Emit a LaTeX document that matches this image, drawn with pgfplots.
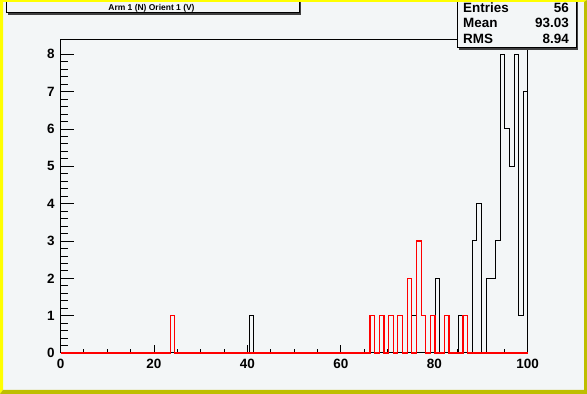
\documentclass[border=0pt]{standalone}
\usepackage{pgfplots}
\pgfplotsset{compat=1.18}
\usepackage{fontspec}
\setmainfont{Liberation Sans}
\definecolor{canvasbg}{RGB}{243,246,247}
\definecolor{brdlight}{RGB}{255,255,0}
\definecolor{brddark}{RGB}{190,190,0}
\begin{document}
\begin{tikzpicture}
\useasboundingbox (0,0) rectangle (587bp,394bp);
\fill[canvasbg] (0,0) rectangle (587bp,394bp);
% frame + x ticks
\begin{axis}[
  at={(60.5bp,41bp)}, anchor=south west,
  scale only axis, width=467.2bp, height=313.7bp,
  xmin=0, xmax=100, ymin=0, ymax=8.4,
  clip=false,
  tick pos=left, tick align=inside,
  xtick={0,20,...,100}, minor x tick num=3,
  ytick=\empty,
  major tick length=8bp, minor tick length=4bp,
  tick style={black, line width=0.8bp},
  /pgf/number format/assume math mode=true,
  xticklabel style={font=\fontsize{13.5}{13.5}\selectfont\bfseries, yshift=-3bp},
  axis line style={line width=1bp},
]
\end{axis}
% y ticks + histograms
\begin{axis}[
  at={(60.5bp,41bp)}, anchor=south west,
  scale only axis, width=467.2bp, height=313.7bp,
  xmin=0, xmax=100, ymin=0, ymax=8.4,
  clip=false,
  tick pos=left, tick align=inside,
  xtick=\empty,
  ytick={0,1,...,8}, minor y tick num=4,
  major tick length=13bp, minor tick length=7bp,
  tick style={black, line width=0.8bp},
  /pgf/number format/assume math mode=true,
  yticklabel style={font=\fontsize{13.5}{13.5}\selectfont\bfseries, xshift=-2.5bp},
  axis line style={draw=none},
]
% bin left edges and contents
\addplot[const plot, black, line width=1bp] coordinates {
 (0,0) (40.37,1) (41.37,0) (75.2,1) (76.19,0) (80.17,2) (81.17,0)
 (85.15,1) (86.14,0) (88.13,3) (89.13,4) (90.12,0) (91.12,2) (92.11,2)
 (93.11,3) (94.1,8) (95.1,6) (96.09,5) (97.09,8) (98.08,1) (99.08,7)
 (100,0)};
\addplot[const plot, red, line width=1.2bp] coordinates {
 (0,0) (23.46,1) (24.45,0) (66.24,1) (67.24,0) (68.23,1) (69.23,0)
 (70.22,1) (71.22,0) (72.21,1) (73.21,0) (74.2,2) (75.2,0) (76.19,3)
 (77.19,1) (78.18,0) (79.18,1) (80.17,0) (82.16,1) (83.16,0)
 (86.14,1) (87.14,0) (100,0)};
\end{axis}
% title box
\fill[black!75] (8bp,379bp) rectangle (301bp,396bp);
\filldraw[fill=canvasbg, draw=black, line width=1bp] (6bp,381bp) rectangle (299bp,398bp);
\node[anchor=base, inner sep=0pt, font=\fontsize{8.5}{8.5}\selectfont\bfseries] at (151.5bp,383.5bp) {Arm 1 (N) Orient 1 (V)};
% stats box
\fill[black!75] (459.3bp,344.3bp) rectangle (578bp,396bp);
\filldraw[fill=canvasbg, draw=black, line width=1bp] (457.3bp,346.3bp) rectangle (576bp,398bp);
\begin{scope}[every node/.style={inner sep=0pt, font=\fontsize{13.5}{13.5}\selectfont\bfseries}]
\node[anchor=base west] at (463bp,381.7bp) {Entries};
\node[anchor=base east] at (569bp,381.7bp) {56};
\node[anchor=base west] at (463bp,366.2bp) {Mean};
\node[anchor=base east] at (569bp,366.2bp) {93.03};
\node[anchor=base west] at (463bp,350bp) {RMS};
\node[anchor=base east] at (569bp,350bp) {8.94};
\end{scope}
% canvas border
\fill[brdlight] (0,0) -- (0,394bp) -- (587bp,394bp) -- (584bp,392bp) -- (3bp,392bp) -- (3bp,4bp) -- cycle;
\fill[brddark] (0,0) -- (587bp,0) -- (587bp,394bp) -- (584bp,392bp) -- (584bp,4bp) -- (3bp,4bp) -- cycle;
\end{tikzpicture}
\end{document}
